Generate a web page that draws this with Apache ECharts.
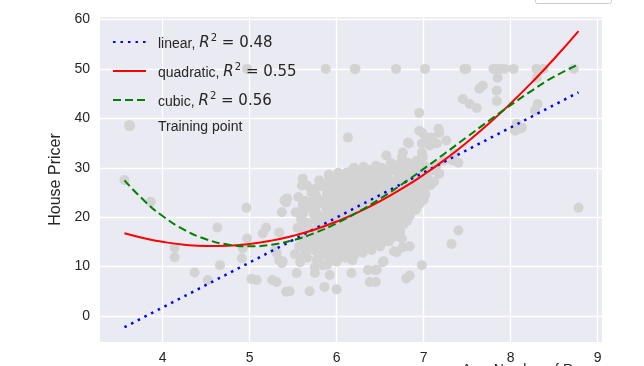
<!DOCTYPE html>
<html>
<head>
<meta charset="utf-8">
<script src="https://cdn.jsdelivr.net/npm/echarts@6/dist/echarts.min.js"></script>
<style>html,body{margin:0;padding:0;background:#fff;}#c{width:644px;height:366px;}</style>
</head>
<body>
<div id="c"></div>
<script>
// ---- tick labels ----
const xTicks = [4, 5, 6, 7, 8, 9];
const yTicks = [0, 10, 20, 30, 40, 50, 60];

// ---- fitted curves ----
const fitX = [3.561, 3.8, 4.0, 4.25, 4.5, 4.75, 5.0, 5.25, 5.5, 5.75, 6.0, 6.25, 6.5, 6.75, 7.0, 7.25, 7.5, 7.75, 8.0, 8.25, 8.5, 8.78];
const linearY = [-2.26, -0.08, 1.74, 4.01, 6.29, 8.57, 10.84, 13.12, 15.39, 17.68, 19.94, 22.22, 24.49, 26.77, 29.04, 31.32, 33.60, 35.87, 38.15, 40.42, 42.70, 45.25];
const quadY = [16.75, 15.69, 15.01, 14.44, 14.19, 14.24, 14.59, 15.26, 16.24, 17.52, 19.12, 21.02, 23.24, 25.76, 28.59, 31.73, 35.18, 38.93, 43.00, 47.37, 52.05, 57.66];
const cubicY = [27.46, 23.14, 20.23, 17.44, 15.54, 14.46, 14.11, 14.44, 15.36, 16.83, 18.77, 21.10, 23.75, 26.67, 29.77, 32.99, 36.25, 39.51, 42.67, 45.67, 48.44, 50.9];

// ---- training points (RM, price) ----
const pointsOuter = [
  [3.561,27.5],[3.863,23.1],[4.138,13.8],[4.138,11.9],[4.368,8.8],[4.519,7.3],[4.628,17.9],[4.66,10.3],
  [4.91,11.7],[4.92,13.7],[4.97,15.7],[4.963,21.9],[5.02,7.5],[5.08,7.3],[5.15,16.7],[5.19,17.9],[5.26,7.3],
  [5.31,6.9],[5.29,13.3],[5.34,16.9],[5.37,21.0],[5.40,23.4],[5.43,23.8],[5.37,10.7],[5.31,12.7],[5.38,11.1],
  [5.42,4.9],[5.46,5.0],[5.69,5.0],[5.86,5.9],[6.00,5.4],[5.54,8.7],[5.75,8.7],[5.92,8.3],[6.17,8.7],
  [6.38,6.9],[6.45,6.9],[6.80,7.6],[6.84,8.2],[6.98,10.3],[6.36,9.3],[6.46,9.3],[6.53,10.9],[6.18,11.3],
  [5.84,10.3],[5.34,11.3],[6.76,13.9],[6.69,12.9],[6.66,13.1],[6.54,11.1],[6.44,9.3],[6.84,14.1],[6.75,15.7],
  [7.32,14.6],[7.40,17.3],[8.78,21.9],
  [4.970,50],[5.875,50],[6.208,50],[6.216,50],[6.683,50],[7.016,50],[7.470,50],[7.489,50],[7.802,50],
  [7.831,50],[7.875,50],[7.929,50],[8.034,50],[8.297,50],[8.375,50],[8.725,50],
  [7.85,48.2],[7.68,46.6],[7.64,46.0],[7.84,45.6],[7.84,43.5],[7.45,43.9],[7.53,42.9],[7.61,42.1],
  [8.30,48.2],[8.31,42.9],[8.28,41.6],[8.07,38.9],[8.05,37.5],[8.10,37.9],[8.13,38.1],[6.95,41.1],
  [6.13,36.1],[6.95,37.5],[6.98,37.1],[7.03,36.1],[7.09,36.1],[7.18,37.1],[7.26,35.5],[7.17,37.9],
  [6.82,35.1],[7.15,34.9],[6.98,34.9],[6.83,34.9],[7.07,34.5],[7.10,35.5],[6.76,33.1],[6.57,32.5],
  [6.75,32.1],[7.36,32.9],[7.23,31.5],[7.40,31.0],[6.99,32.1],[7.33,31.5],[6.98,33.1],[6.52,30.0],
  [6.17,29.4],[5.61,27.8],[5.60,26.4],[5.42,23.0]
];
const pointsCore = [
  [5.52,12.5],[5.57,14.1],[5.60,16.0],[5.55,17.8],[5.59,19.6],[5.53,21.0],[5.61,22.5],[5.56,24.1],[5.63,13.2],[5.58,10.9],
  [5.66,11.8],[5.70,13.6],[5.68,15.3],[5.72,17.2],[5.67,18.8],[5.74,20.5],[5.69,22.0],[5.73,23.4],[5.71,25.0],[5.66,26.4],[5.75,9.9],
  [5.79,10.5],[5.83,12.3],[5.81,14.0],[5.86,15.6],[5.80,17.1],[5.87,18.7],[5.82,20.2],[5.88,21.9],[5.84,23.3],[5.89,24.8],[5.85,26.2],[5.80,27.4],
  [5.93,11.2],[5.96,13.0],[5.92,14.7],[5.98,16.3],[5.94,18.0],[5.99,19.6],[5.95,21.2],[5.97,22.6],[5.93,24.2],[5.98,25.7],[5.95,27.5],[5.91,28.6],
  [6.03,12.0],[6.06,13.8],[6.02,15.5],[6.08,17.0],[6.04,18.6],[6.09,20.1],[6.05,21.6],[6.07,23.1],[6.03,24.7],[6.09,26.2],[6.05,27.8],[6.02,29.0],
  [6.13,12.7],[6.16,14.4],[6.12,16.1],[6.18,17.7],[6.14,19.3],[6.19,20.9],[6.15,22.3],[6.17,23.9],[6.13,25.4],[6.19,26.9],[6.15,28.4],[6.20,30.0],
  [6.23,13.2],[6.27,15.0],[6.22,16.6],[6.28,18.2],[6.24,19.8],[6.29,21.3],[6.25,22.8],[6.27,24.4],[6.23,26.0],[6.29,27.5],[6.25,29.0],
  [6.33,13.8],[6.37,15.5],[6.32,17.1],[6.38,18.7],[6.34,20.3],[6.39,21.8],[6.35,23.4],[6.37,25.0],[6.33,26.5],[6.39,28.0],[6.36,29.6],
  [6.43,14.3],[6.47,16.0],[6.42,17.6],[6.48,19.2],[6.44,20.8],[6.49,22.3],[6.45,24.0],[6.47,25.5],[6.43,27.0],[6.48,28.6],[6.45,30.4],
  [6.53,15.0],[6.57,16.6],[6.52,18.3],[6.58,19.9],[6.54,21.5],[6.59,23.0],[6.55,24.6],[6.57,26.2],[6.53,27.7],[6.59,29.1],[6.62,31.0],
  [6.63,15.8],[6.67,17.4],[6.62,19.0],[6.68,20.6],[6.64,22.2],[6.69,23.8],[6.65,25.3],[6.67,26.9],[6.71,28.4],[6.66,30.0],
  [6.73,17.0],[6.77,18.6],[6.72,20.2],[6.78,21.8],[6.74,23.4],[6.79,25.0],[6.75,26.5],[6.80,28.0],[6.77,29.6],[6.82,31.0],
  [6.84,20.3],[6.88,22.0],[6.83,23.6],[6.89,25.2],[6.85,26.7],[6.90,28.3],[6.86,29.8],[6.92,31.4],
  [6.95,22.6],[6.98,24.2],[6.93,25.8],[6.99,27.4],[6.96,28.9],[7.01,30.4],
  [7.02,24.6],[7.08,26.5],[7.04,28.0],[7.10,29.5],[7.15,30.5],[7.18,28.8],[7.12,27.2]
];
const pointsCoreFill = [
  [5.62,12.0],[5.64,14.9],[5.62,17.0],[5.64,19.0],[5.62,20.9],[5.64,23.3],
  [5.77,11.4],[5.76,13.2],[5.77,14.7],[5.76,16.2],[5.78,17.9],[5.77,19.5],[5.76,21.2],[5.78,22.7],[5.77,24.2],[5.76,25.8],
  [5.89,10.4],[5.90,12.1],[5.89,13.8],[5.90,15.3],[5.89,16.9],[5.90,18.4],[5.89,20.0],[5.90,21.6],[5.89,23.1],[5.90,25.6],[5.89,27.0],
  [6.00,11.0],[6.01,12.9],[6.00,14.5],[6.01,16.1],[6.00,17.7],[6.01,19.3],[6.00,20.8],[6.01,22.4],[6.00,23.9],[6.01,25.5],[6.00,27.0],[6.00,28.3],
  [6.10,11.8],[6.11,13.3],[6.10,15.0],[6.11,16.6],[6.10,18.2],[6.11,19.8],[6.10,21.3],[6.11,22.9],[6.10,24.4],[6.11,26.0],[6.10,27.5],[6.11,29.0],
  [6.20,12.3],[6.21,14.0],[6.20,15.6],[6.21,17.2],[6.20,18.7],[6.21,20.3],[6.20,21.8],[6.21,23.4],[6.20,24.9],[6.21,26.4],[6.20,28.0],[6.21,29.2],
  [6.30,12.8],[6.31,14.4],[6.30,16.1],[6.31,17.6],[6.30,19.2],[6.31,20.8],[6.30,22.3],[6.31,23.9],[6.30,25.4],[6.31,27.0],[6.30,28.5],[6.31,30.2],
  [6.40,13.3],[6.41,15.0],[6.40,16.6],[6.41,18.2],[6.40,19.7],[6.41,21.3],[6.40,22.8],[6.41,24.4],[6.40,26.0],[6.41,27.5],[6.40,29.1],
  [6.50,14.1],[6.51,15.6],[6.50,17.2],[6.51,18.8],[6.50,20.3],[6.51,21.9],[6.50,23.4],[6.51,25.0],[6.50,26.5],[6.51,28.1],[6.50,29.6],
  [6.60,15.1],[6.61,16.8],[6.60,18.3],[6.61,19.9],[6.60,21.4],[6.61,23.0],[6.60,24.5],[6.61,26.0],[6.60,27.6],[6.61,29.4],
  [6.70,16.2],[6.71,18.0],[6.70,19.5],[6.71,21.1],[6.70,22.6],[6.71,24.2],[6.70,25.8],[6.71,27.3],[6.70,29.0],[6.71,30.6],
  [6.81,19.3],[6.80,20.9],[6.81,22.5],[6.80,24.1],[6.81,25.7],[6.80,27.2],[6.81,28.8],[6.80,30.3],
  [6.91,21.5],[6.90,23.0],[6.91,24.6],[6.90,26.2],[6.91,27.7],[6.90,29.3],[6.91,30.8],
  [7.00,23.5],[7.01,25.0],[7.00,26.7],[7.01,28.2],[7.00,29.6]
];

const textColor = '#262626';
const chart = echarts.init(document.getElementById('c'), null, {renderer: 'canvas'});
const legendText = {
  'linear': '{t|linear, }{m|R}{s|2}{e| = 0.48}',
  'quadratic': '{t|quadratic, }{m|R}{s|2}{e| = 0.55}',
  'cubic': '{t|cubic, }{m|R}{s|2}{e| = 0.56}',
  'Training point': '{t|Training point}'
};
const toPairs = ys => fitX.map((x, i) => [x, ys[i]]);
const hideSym = {opacity: 0};

chart.setOption({
  backgroundColor: '#ffffff',
  animation: false,
  grid: {left: 100, right: 42, top: 17, bottom: 24, show: true, backgroundColor: '#EAEAF2', borderWidth: 0},
  xAxis: {
    type: 'value', min: 3.28, max: 9.05,
    axisLine: {show: false}, axisTick: {show: false, customValues: xTicks},
    axisLabel: {customValues: xTicks, color: textColor, fontSize: 14, fontFamily: 'Liberation Sans', margin: 9},
    splitLine: {show: true, lineStyle: {color: '#ffffff', width: 1.3}}
  },
  yAxis: {
    type: 'value', min: -5.25, max: 60.5,
    name: 'House Pricer', nameLocation: 'middle', nameGap: 33, nameRotate: 90,
    nameTextStyle: {color: textColor, fontSize: 16, fontFamily: 'Liberation Sans'},
    axisLine: {show: false}, axisTick: {show: false, customValues: yTicks},
    axisLabel: {customValues: yTicks, color: textColor, fontSize: 14, fontFamily: 'Liberation Sans', margin: 10},
    splitLine: {show: true, lineStyle: {color: '#ffffff', width: 1.3}}
  },
  legend: {
    orient: 'vertical', left: 107, top: 28, itemWidth: 33, itemHeight: 11, itemGap: 11,
    data: [
      {name: 'linear', itemStyle: hideSym}, {name: 'quadratic', itemStyle: hideSym}, {name: 'cubic', itemStyle: hideSym},
      {name: 'Training point', icon: 'circle'}
    ],
    formatter: n => legendText[n],
    textStyle: {
      color: textColor, padding: [0, 0, 0, 7],
      rich: {
        t: {fontSize: 14, fontFamily: 'Liberation Sans', color: textColor, lineHeight: 18, verticalAlign: 'bottom'},
        m: {fontSize: 15, fontFamily: 'DejaVu Sans', fontStyle: 'italic', color: textColor, lineHeight: 18, verticalAlign: 'bottom'},
        s: {fontSize: 10, fontFamily: 'DejaVu Sans', color: textColor, lineHeight: 18, verticalAlign: 'top', padding: [0, 0, 0, 1]},
        e: {fontSize: 15, fontFamily: 'DejaVu Sans', color: textColor, lineHeight: 18, verticalAlign: 'bottom'}
      }
    }
  },
  series: [
    {name: 'Training point', type: 'scatter', data: pointsOuter.concat(pointsCore, pointsCoreFill), symbolSize: 10,
      itemStyle: {color: '#d3d3d3', opacity: 1}, z: 1},
    {name: 'linear', type: 'line', data: toPairs(linearY), showSymbol: false, symbol: 'none', z: 3,
      lineStyle: {color: '#0000ff', width: 2.5, type: [2.5, 5], cap: 'butt'}, itemStyle: {color: '#0000ff'}},
    {name: 'quadratic', type: 'line', data: toPairs(quadY), smooth: true, showSymbol: false, symbol: 'none', z: 3,
      lineStyle: {color: '#ff0000', width: 2}, itemStyle: {color: '#ff0000'}},
    {name: 'cubic', type: 'line', data: toPairs(cubicY), smooth: true, showSymbol: false, symbol: 'none', z: 3,
      lineStyle: {color: '#008000', width: 2, type: [8, 4]}, itemStyle: {color: '#008000'}}
  ],
  graphic: [
    {type: 'rect', left: 535, top: -6, shape: {width: 76, height: 9, r: 2}, style: {fill: '#ffffff', stroke: '#cccccc', lineWidth: 1}},
    {type: 'text', left: 462, top: 363, style: {text: 'Avg. Number of Rooms', fill: textColor, font: '14px "Liberation Sans"'}}
  ]
});
</script>
</body>
</html>
